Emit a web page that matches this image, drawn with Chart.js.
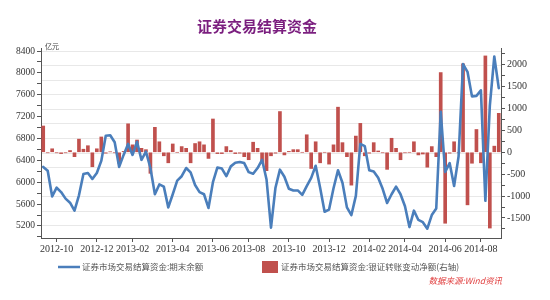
<!DOCTYPE html>
<html>
<head>
<meta charset="utf-8">
<script src="https://cdn.jsdelivr.net/npm/chart.js@4"></script>
<style>
 html, body { margin: 0; padding: 0; background: #fff; }
 #wrap { width: 550px; height: 300px; }
</style>
</head>
<body>
<div id="wrap"><canvas id="chart" width="550" height="300"></canvas></div>
<script>
const titleText = "证券交易结算资金";
const unitText = "亿元";
const seriesNames = ["证券市场交易结算资金:期末余额", "证券市场交易结算资金:银证转账变动净额(右轴)"];
const sourceText = "数据来源:Wind资讯";

// weekly observations, first week 2012-09-14
const firstWeek = "2012-09-14";
const tickLabels = ["2012-10", "2012-12", "2013-02", "2013-04", "2013-06", "2013-08",
 "2013-10", "2013-12", "2014-02", "2014-04", "2014-06", "2014-08"];

// 期末余额 (left axis, 亿元)
const balance = [
 6280, 6210, 5740, 5900, 5820, 5700, 5625, 5480, 5760, 6150,
 6170, 6060, 6170, 6390, 6850, 6860, 6730, 6280, 6500, 6700,
 6500, 6740, 6410, 6560, 6260, 5780, 5960, 5920, 5540, 5780,
 6030, 6110, 6260, 6180, 5950, 5820, 5780, 5530, 6000, 6270,
 6250, 6110, 6290, 6355, 6370, 6350, 6185, 6155, 6260, 6410,
 6050, 5170, 5900, 6230, 6100, 5880, 5850, 5850, 5770, 5930,
 6080, 6300, 5900, 5460, 5500, 5890, 6220, 5990, 5540, 5400,
 5750, 6700, 6660, 6220, 6196, 6080, 5880, 5620, 5780, 5920,
 5780, 5560, 5180, 5480, 5310, 5270, 5150, 5400, 5520, 7290,
 6190, 6350, 5930, 6470, 8160, 8020, 7570, 7580, 7680, 5660,
 7400, 8300, 7720
];

// 银证转账变动净额 (right axis, 亿元)
const netTransfer = [
 600, -10, 80, -10, -30, -10, 40, -100, 300, 70,
 150, -330, 80, 350, -20, 10, -10, -250, 20, 650,
 170, 280, 90, 60, -480, 570, 240, -80, -240, 190,
 0, 130, 90, -240, 200, 240, 170, -140, 760, -30,
 -30, 130, 40, -30, -20, -100, -170, 230, 90, -250,
 -420, -80, -20, 930, -60, 20, 60, 60, 0, 400,
 -370, 240, -240, 0, -270, 170, 1030, 220, -100, -750,
 370, 660, -80, -20, 220, 30, -10, -390, 320, 90,
 -170, -10, 0, 240, -60, -40, -340, 130, -100, 1820,
 -1620, -20, 240, -10, 2020, -1200, -250, 520, -240, 2200,
 -1730, 140, 890
];

const blue = "#4a7ebb";
const red = "#c0504d";
const axisColor = "#555";

// week labels
const weeks = [];
const t0 = Date.parse(firstWeek + "T00:00:00Z");
for (let i = 0; i < balance.length; i++) {
 weeks.push(new Date(t0 + i * 7 * 86400000).toISOString().slice(0, 10));
}
// index of the first week of each labelled month
const tickAt = {};
weeks.forEach((w, i) => {
 const m = w.slice(0, 7);
 if (tickLabels.includes(m) && !(m in tickAt)) tickAt[m] = i;
});
const tickIndexes = Object.values(tickAt);

const overlay = {
 id: "overlay",
 afterDraw(chart) {
 const c = chart.ctx;
 c.save();
 c.textBaseline = "middle";
 c.textAlign = "center";
 c.fillStyle = "#7b1f7f";
 c.font = "bold 15px 'Noto Sans CJK SC'";
 c.fillText(titleText, 257, 26);

 c.textAlign = "left";
 c.fillStyle = "#444";
 c.font = "7px 'Noto Sans CJK SC'";
 c.fillText(unitText, 45, 46);

 // legend
 c.font = "8.5px 'Noto Sans CJK SC'";
 c.fillStyle = "#555";
 c.strokeStyle = blue;
 c.lineWidth = 2.5;
 c.beginPath();
 c.moveTo(58, 267);
 c.lineTo(80, 267);
 c.stroke();
 c.fillText(seriesNames[0], 82, 267);
 c.fillStyle = red;
 c.fillRect(262, 261, 16, 12);
 c.fillStyle = "#555";
 c.fillText(seriesNames[1], 281, 267);

 c.textAlign = "right";
 c.fillStyle = "#e03a3a";
 c.font = "italic 8.5px 'Noto Sans CJK SC'";
 c.fillText(sourceText, 502, 281);
 c.restore();
 }
};

const tickFont = { family: "'Liberation Serif'", size: 10 };

new Chart(document.getElementById("chart").getContext("2d"), {
 type: "bar",
 data: {
 labels: weeks,
 datasets: [
 {
 type: "line",
 label: seriesNames[0],
 data: balance,
 yAxisID: "y",
 borderColor: blue,
 backgroundColor: blue,
 borderWidth: 2.6,
 borderJoinStyle: "round",
 borderCapStyle: "round",
 pointRadius: 0,
 tension: 0,
 order: 0
 },
 {
 type: "bar",
 label: seriesNames[1],
 data: netTransfer,
 yAxisID: "y1",
 backgroundColor: red,
 barThickness: 3,
 order: 1
 }
 ]
 },
 options: {
 responsive: false,
 animation: false,
 layout: { padding: { top: 48, bottom: 46, left: 0, right: 0 } },
 plugins: { legend: { display: false }, tooltip: { enabled: false } },
 scales: {
 x: {
 offset: true,
 grid: {
 offset: false,
 drawOnChartArea: false,
 tickLength: 4,
 tickColor: ctx => tickIndexes.includes(ctx.index) ? axisColor : "rgba(0,0,0,0)"
 },
 border: { color: axisColor },
 ticks: {
 autoSkip: false,
 maxRotation: 0,
 padding: 1,
 color: "#333",
 font: tickFont,
 callback: (v, i) => tickIndexes.includes(i) ? weeks[i].slice(0, 7) : ""
 },
 afterFit: s => { s.height = 16; }
 },
 y: {
 position: "left",
 min: 4980,
 max: 8455,
 grid: { drawOnChartArea: false, tickLength: 4, color: axisColor },
 border: { color: axisColor },
 ticks: {
 stepSize: 200,
 autoSkip: false,
 includeBounds: false,
 padding: 2,
 color: "#333",
 font: { family: "'Liberation Serif'", size: 9.5 },
 callback: v => Math.round(v) % 400 === 0 ? Math.round(v) : ""
 },
 afterFit: s => { s.width = 41; }
 },
 yg: {
 position: "left",
 min: 4980,
 max: 8455,
 grid: { color: "#e8e8e8", drawTicks: false },
 border: { display: false },
 ticks: { display: false },
 afterBuildTicks: s => {
 const t = [];
 for (let v = 8400; v > 4980; v -= 800 / 3) t.push({ value: v });
 s.ticks = t;
 },
 afterFit: s => { s.width = 0; }
 },
 y1: {
 position: "right",
 min: -1957,
 max: 2381,
 grid: { drawOnChartArea: false, tickLength: 4, color: axisColor },
 border: { color: axisColor },
 ticks: {
 stepSize: 250,
 autoSkip: false,
 includeBounds: false,
 padding: 2,
 color: "#333",
 font: tickFont,
 callback: v => Math.round(v) % 500 === 0 ? Math.round(v) : ""
 },
 afterFit: s => { s.width = 49; }
 }
 }
 },
 plugins: [overlay]
});
</script>
</body>
</html>
